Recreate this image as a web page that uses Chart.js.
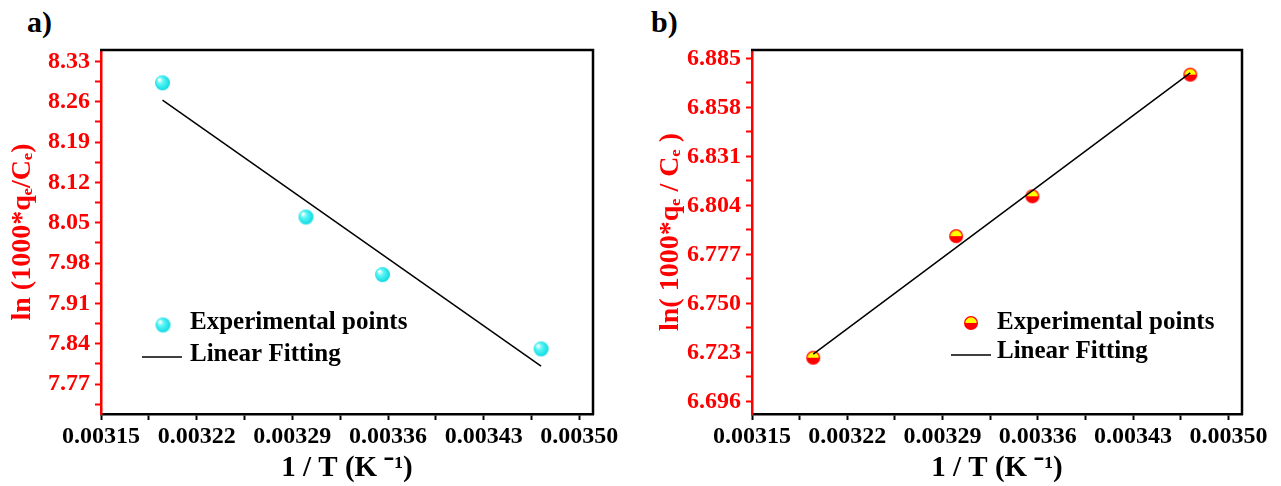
<!DOCTYPE html>
<html>
<head>
<meta charset="utf-8">
<script src="https://cdn.jsdelivr.net/npm/chart.js@4.4.1/dist/chart.umd.min.js"></script>
<style>
	html, body { margin: 0; padding: 0; background: #fff; }
	#page { position: relative; width: 1281px; height: 486px; overflow: hidden; }
	.panel { position: absolute; top: 0; height: 486px; }
	.tag { position: absolute; top: 5px; font: bold 30px 'Liberation Serif', serif; color: #000; }
</style>
</head>
<body>
<div id="page">
	<div class="tag" style="left:27px;">a)</div>
	<div class="tag" style="left:651px;">b)</div>
	<div class="panel" style="left:0; width:640px;"><canvas id="chartA"></canvas></div>
	<div class="panel" style="left:640px; width:641px;"><canvas id="chartB"></canvas></div>
</div>
<script>
// 1/T values (K^-1) shared by both panels
const invT = [0.003195, 0.003300, 0.003356, 0.003472];
// panel a) ln(1000*qe/Ce)
const lnA = [8.293, 8.060, 7.960, 7.831];
const fitA = [8.263, 7.801];
// panel b) ln(1000*qe/Ce)
const lnB = [6.720, 6.787, 6.809, 6.876];
const fitB = [6.722, 6.877];
const fitX = [0.003195, 0.003472];

const xTicks = [0.00315, 0.00322, 0.00329, 0.00336, 0.00343, 0.00350];
const yTicksA = [7.77, 7.84, 7.91, 7.98, 8.05, 8.12, 8.19, 8.26, 8.33];
const yTicksB = [6.696, 6.723, 6.750, 6.777, 6.804, 6.831, 6.858, 6.885];

const FONT = "'Liberation Serif', 'Times New Roman', serif";
Chart.defaults.font.family = FONT;
Chart.defaults.font.weight = 'bold';

// majors plus minor ticks halfway between them
function withMinor(majors, min, max) {
	const step = majors[1] - majors[0];
	const all = [];
	majors.forEach(v => { all.push(v); all.push(v - step / 2); all.push(v + step / 2); });
	return [...new Set(all.map(v => +v.toFixed(7)))].filter(v => v >= min && v <= max).sort((a, b) => a - b);
}

function isMajor(majors, v) {
	return majors.some(m => Math.abs(m - v) < 1e-7);
}

function sphereImg(r) {
	const c = document.createElement('canvas');
	c.width = c.height = 2 * r + 2;
	const ctx = c.getContext('2d');
	const g = ctx.createRadialGradient(r * 0.7, r * 0.7, r * 0.1, r + 1, r + 1, r + 1);
	g.addColorStop(0, '#ffffff');
	g.addColorStop(0.3, '#5ff6f6');
	g.addColorStop(1, '#00d6de');
	ctx.fillStyle = g;
	ctx.beginPath();
	ctx.arc(r + 1, r + 1, r, 0, Math.PI * 2);
	ctx.fill();
	return c;
}

function halfImg(r) {
	const c = document.createElement('canvas');
	c.width = c.height = 2 * r + 2;
	const ctx = c.getContext('2d');
	ctx.fillStyle = '#ff0000';
	ctx.beginPath();
	ctx.arc(r + 1, r + 1, r, 0, Math.PI * 2);
	ctx.fill();
	ctx.fillStyle = '#ffff00';
	ctx.beginPath();
	ctx.arc(r + 1, r + 1, r - 1.3, Math.PI, 0);
	ctx.closePath();
	ctx.fill();
	return c;
}

const frame = {
	id: 'frame',
	afterDraw(chart) {
		const a = chart.chartArea, ctx = chart.ctx;
		ctx.save();
		ctx.strokeStyle = '#000';
		ctx.lineWidth = 2.5;
		ctx.beginPath();
		ctx.moveTo(a.left - 1, a.top);
		ctx.lineTo(a.right, a.top);
		ctx.lineTo(a.right, a.bottom + 1);
		ctx.stroke();
		ctx.restore();
	}
};

const innerLegend = {
	id: 'innerLegend',
	afterDatasetsDraw(chart, args, o) {
		const ctx = chart.ctx;
		ctx.save();
		ctx.drawImage(o.img, o.mx - o.img.width / 2, o.my - o.img.height / 2);
		ctx.strokeStyle = '#000';
		ctx.lineWidth = 1.5;
		ctx.beginPath();
		ctx.moveTo(o.lx1, o.ly);
		ctx.lineTo(o.lx2, o.ly);
		ctx.stroke();
		ctx.fillStyle = '#000';
		ctx.font = 'bold 25px ' + FONT;
		ctx.textBaseline = 'middle';
		ctx.fillText('Experimental points', o.tx, o.ty1);
		ctx.fillText('Linear Fitting', o.tx, o.ty2);
		ctx.restore();
	}
};

function makeChart(id, ys, fit, yMajors, yMin, yMax, digits, yTitle, yWidth, padRight, img, legend, titlePad) {
	const yAll = withMinor(yMajors, yMin, yMax);
	const xAll = withMinor(xTicks, 0.00315, 0.00351);
	return new Chart(document.getElementById(id), {
		type: 'scatter',
		data: {
			datasets: [
				{
					type: 'line',
					data: fitX.map((x, i) => ({ x, y: fit[i] })),
					borderColor: '#000',
					borderWidth: 1.5,
					pointRadius: 0,
					fill: false,
					order: 0
				},
				{
					data: invT.map((x, i) => ({ x, y: ys[i] })),
					pointStyle: img,
					pointRadius: 7,
					order: 1
				}
			]
		},
		options: {
			responsive: true,
			maintainAspectRatio: false,
			animation: false,
			layout: { padding: { top: 50, right: padRight, left: 0, bottom: 0 } },
			plugins: {
				legend: { display: false },
				tooltip: { enabled: false },
				innerLegend: legend
			},
			scales: {
				x: {
					type: 'linear',
					min: 0.00315,
					max: 0.00351,
					afterBuildTicks: s => { s.ticks = xAll.map(v => ({ value: v })); },
					afterFit: s => { s.height = 72; },
					border: { color: '#000', width: 2.5 },
					grid: { drawOnChartArea: false, tickLength: 6, tickColor: '#000', tickWidth: 2 },
					ticks: {
						autoSkip: false,
						maxRotation: 0,
						padding: 2,
						color: '#000',
						font: { size: 24, weight: 'bold' },
						callback: v => isMajor(xTicks, v) ? v.toFixed(5) : ''
					},
					title: {
						display: true,
						text: '1 / T (K \u207B\u00B9)',
						color: '#000',
						font: { size: 29, weight: 'bold' },
						padding: { top: 0, bottom: 0 }
					}
				},
				y: {
					type: 'linear',
					min: yMin,
					max: yMax,
					afterBuildTicks: s => { s.ticks = yAll.map(v => ({ value: v })); },
					afterFit: s => { s.width = yWidth; },
					border: { color: '#ff0000', width: 2.5 },
					grid: { drawOnChartArea: false, tickLength: 6, tickColor: '#ff0000', tickWidth: 2 },
					ticks: {
						autoSkip: false,
						padding: 5,
						color: '#ff0000',
						font: { size: 24, weight: 'bold' },
						callback: v => isMajor(yMajors, v) ? v.toFixed(digits) : ''
					},
					title: {
						display: true,
						text: yTitle,
						color: '#ff0000',
						font: { size: 28, weight: 'bold' },
						padding: { top: titlePad, bottom: 0 }
					}
				}
			}
		},
		plugins: [frame, innerLegend]
	});
}

makeChart('chartA', lnA, fitA, yTicksA, 7.718, 8.350, 2,
	'ln (1000*q\u2091/C\u2091)', 101, 47, sphereImg(7.5),
	{ img: sphereImg(7.5), mx: 163, my: 325, lx1: 142, lx2: 182, ly: 357, tx: 190, ty1: 323, ty2: 355 }, 6);

makeChart('chartB', lnB, fitB, yTicksB, 6.689, 6.8896, 3,
	'ln( 1000*q\u2091 / C\u2091 )', 112, 39, halfImg(7),
	{ img: halfImg(7), mx: 331, my: 323, lx1: 311, lx2: 351, ly: 355, tx: 357, ty1: 323, ty2: 352 }, 14);
</script>
</body>
</html>
